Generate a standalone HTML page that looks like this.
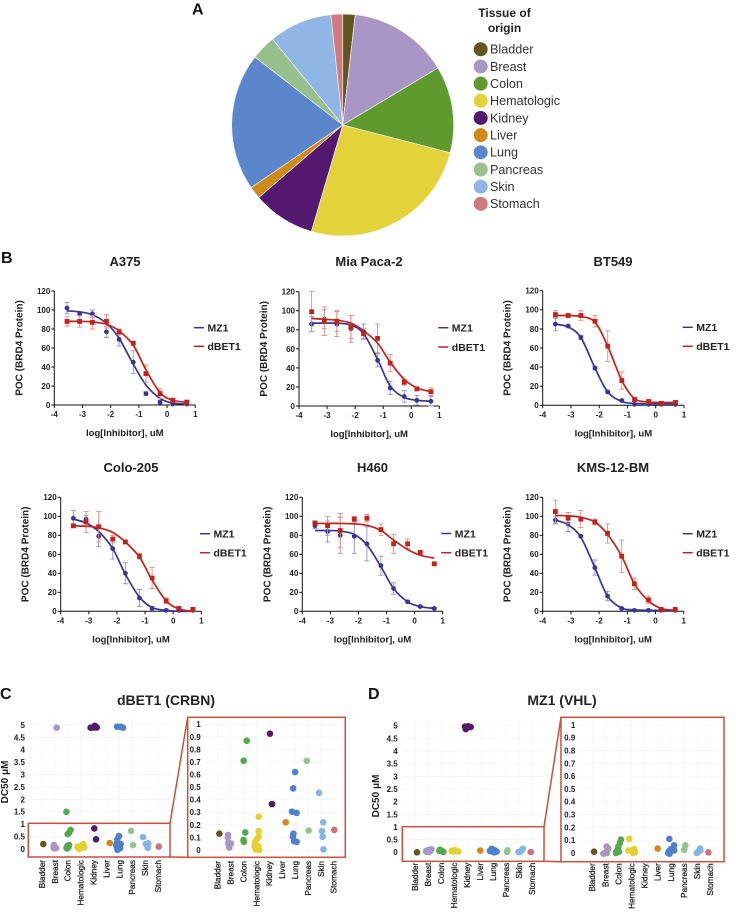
<!DOCTYPE html>
<html lang="en">
<head>
<meta charset="utf-8">
<title>BRD4 degradation across tissue types</title>
<style>
html,body{margin:0;padding:0;background:#fff;width:736px;height:916px;overflow:hidden}
svg{display:block;font-family:"Liberation Sans",sans-serif;filter:blur(0.3px)}
</style>
</head>
<body>
<svg id="figure" xmlns="http://www.w3.org/2000/svg" width="736" height="916" viewBox="0 0 736 916">
<rect x="0" y="0" width="736" height="916" fill="#fff"/>
<text x="192" y="14.5" font-size="16" font-weight="700" fill="#111">A</text>
<text x="1" y="263" font-size="16" font-weight="700" fill="#111">B</text>
<text x="0" y="699" font-size="16" font-weight="700" fill="#111">C</text>
<text x="368" y="699" font-size="16" font-weight="700" fill="#111">D</text>
<text x="504.5" y="17" font-size="12" font-weight="700" text-anchor="middle" fill="#222">Tissue of</text>
<text x="504.5" y="32" font-size="12" font-weight="700" text-anchor="middle" fill="#222">origin</text>
<text x="125" y="266" font-size="13" font-weight="700" text-anchor="middle" fill="#222">A375</text>
<text x="369" y="266" font-size="13" font-weight="700" text-anchor="middle" fill="#222">Mia Paca-2</text>
<text x="613" y="266" font-size="13" font-weight="700" text-anchor="middle" fill="#222">BT549</text>
<text x="131" y="472" font-size="13" font-weight="700" text-anchor="middle" fill="#222">Colo-205</text>
<text x="372.5" y="472" font-size="13" font-weight="700" text-anchor="middle" fill="#222">H460</text>
<text x="613" y="472" font-size="13" font-weight="700" text-anchor="middle" fill="#222">KMS-12-BM</text>
<text x="166" y="705" font-size="14" font-weight="700" text-anchor="middle" fill="#222">dBET1 (CRBN)</text>
<text x="562" y="705" font-size="14" font-weight="700" text-anchor="middle" fill="#222">MZ1 (VHL)</text>
<text transform="translate(8 782) rotate(-90)" font-size="10" font-weight="700" text-anchor="middle" fill="#222">DC50 μM</text>
<text transform="translate(379 796) rotate(-90)" font-size="10" font-weight="700" text-anchor="middle" fill="#222">DC50 μM</text>
</svg>
<script>
// ---- Panel A data ----
const tissues = ["Bladder","Breast","Colon","Hematologic","Kidney","Liver","Lung","Pancreas","Skin","Stomach"];
const tissueShare = [1.8,14.6,12.6,25.5,9.1,1.8,20,3.6,9.2,1.7];
const tissueColors = ["#635420","#a996c7","#5f9a2f","#e4d23a","#55186f","#d08a1a","#5c86cc","#98c08c","#90b6e6","#cf7b80"];
const dotColors = ["#635420","#a996c7","#55a850","#e6cf30","#55186f","#d8861a","#4f80cf","#94c48c","#86b4e8","#cf7176"];

// ---- Panel B data ----
const logDoses = [-3.55,-3.1,-2.65,-2.15,-1.7,-1.2,-0.75,-0.25,0.2,0.7];
const xTickValues = [-4,-3,-2,-1,0,1];
const yTickValues = [0,20,40,60,80,100,120];

const a375Mz1Values = [102,96,96,77,69,45,12,3,1,1];
const a375Mz1Errors = [6,2,4,6,7,12,2,2,1,1];
const a375Mz1Curve = [99,98,95,86,70,43,21,7,2,1];
const a375Dbet1Values = [88,88,87,88,77,65,33,12,5,3];
const a375Dbet1Errors = [5,6,7,7,3,2,9,5,2,2];
const a375Dbet1Curve = [88,88,87.5,85,78,63,37,13,5,3];

const miaMz1Values = [86,91,86,81,78,48,19,10,6,5];
const miaMz1Errors = [8,10,13,14,8,7,7,6,5,5];
const miaMz1Curve = [87,87,87,85,76,49,21,9,6,5];
const miaDbet1Values = [99,89,89,83,76,71,45,25,18,15];
const miaDbet1Errors = [21,15,11,12,5,15,9,3,2,4];
const miaDbet1Curve = [92,91,90,87,79,66,46,28,19,15];

const btMz1Values = [85,83,71,39,14,5,1,1,1,1];
const btMz1Errors = [7,1,2,2,1,1,1,1,1,1];
const btMz1Curve = [85,82,71,39,14,4,2,1.5,1.5,1.5];
const btDbet1Values = [95,94,94,88,62,26,6,4,2,3];
const btDbet1Errors = [4,2,5,6,16,9,2,2,1,1];
const btDbet1Curve = [94,94,93,87,62,26,7,3.5,3,3];

const coloMz1Values = [98,97,79,66,40,14,3,1,1,1];
const coloMz1Errors = [8,4,11,11,11,9,2,1,1,1];
const coloMz1Curve = [97,93,84,66,39,15,4,1,0,0];
const coloDbet1Values = [90,94,89,76,73,58,35,11,3,2];
const coloDbet1Errors = [2,11,16,4,2,3,11,3,1,1];
const coloDbet1Curve = [90,89.5,88,83,73,57,33,11,2.5,0];

const h460Mz1Values = [90,84,80,79,71,48,24,10,5,3];
const h460Mz1Errors = [3,11,19,18,18,10,6,1,1,1];
const h460Mz1Curve = [85,85,84.5,81,70,47,24,10,5,3];
const h460Dbet1Values = [93,90,85,97,98,86,71,71,62,50];
const h460Dbet1Errors = [2,10,18,3,4,6,10,5,2,1];
const h460Dbet1Curve = [92.5,92.5,92.5,92,90.5,85,75,65,59,56];

const kmsMz1Values = [96,92,79,46,16,3,1,1,1,1];
const kmsMz1Errors = [4,8,1,8,5,1,1,1,1,1];
const kmsMz1Curve = [96,91,78,46,16,3.5,1.5,1,1,1];
const kmsDbet1Values = [105,98,97,94,82,58,29,12,2,2];
const kmsDbet1Errors = [12,6,9,3,10,17,6,4,1,1];
const kmsDbet1Curve = [101,100.5,99,94,81,58,29,11,3,1];

// ---- Panels C / D data: [category position with jitter, DC50] ----
const mainTicks = [0,0.5,1,1.5,2,2.5,3,3.5,4,4.5,5];
const insetTicks = [0,0.1,0.2,0.3,0.4,0.5,0.6,0.7,0.8,0.9,1];
const dbet1Overview = [
[0.1,.2],[1.14,4.89],[.92,.16],[.92,.03],[1,.03],[.97,.09],[1.1,.04],[.9,.1],
[1.89,1.5],[2.22,.77],[1.99,.6],[2.1,.66],[2,.14],[1.9,.05],[2.1,.16],[1.97,.1],[2.05,.08],[1.95,.02],
[2.82,.03],[3.08,.1],[3.2,.2],[3.26,.06],[2.9,0],[2.75,.1],[3.1,.16],[3,.04],[3.15,.12],
[3.77,4.89],[3.98,4.9],[4.1,4.97],[4.24,4.9],[4.05,.83],[4.19,.39],
[5.25,.24],
[5.82,4.93],[6.1,4.93],[6.28,4.89],[5.97,.52],[5.84,.39],[5.78,.23],[6,.2],[5.78,.1],[5.9,.03],[6.05,.03],[5.75,.15],[5.85,-.03],[5.95,.12],[6.1,.2],
[6.9,.73],[7.05,.16],
[7.83,.48],[8.24,.23],[8.1,.18],[8.2,.05],[8.05,.2],
[9.05,.1]];
const dbet1Zoomed = [
[.13,.13],[.8,.12],[.79,.1],[.83,.06],[1.03,.05],[.85,.04],[.9,.02],
[2.25,.87],[2.01,.71],[2.14,.14],[2,.08],[2.03,.065],
[3.18,.265],[3.18,.15],[3.18,.105],[3.05,.09],[2.9,.065],[2.85,.03],[3.15,.03],[2.95,.005],[3.2,0],[3.16,.015],
[4.05,.925],[4.21,.365],
[5.27,.22],
[6,.62],[5.85,.49],[5.76,.305],[6.12,.295],[5.87,.13],[5.83,.105],[5.92,.07],[6.12,.065],
[6.9,.71],[7.05,.155],
[7.85,.455],[8.18,.22],[8.08,.15],[8.13,.105],[8.2,.005],
[9.04,.16]];
const mz1Overview = [
[.13,0],
[.85,.02],[1.05,.01],[1.25,.12],[1.05,.1],[.85,.06],[1.15,.05],
[1.9,.1],[2.16,.02],[2.03,.06],[1.85,.06],
[2.8,.06],[3.06,.09],[3.32,.03],[2.93,.03],[3.15,.05],
[3.83,4.97],[4.01,4.93],[4.27,4.95],[3.89,4.87],[4.09,4.98],
[5.01,.07],
[5.89,.14],[6.14,.08],[6.27,.03],[5.89,.04],[6.09,0],[5.75,.06],
[7.12,.08],[7.07,.02],
[8.28,.14],[8.07,.02],[8.2,.08],[7.95,.01],
[8.9,.01]];
const mz1Zoomed = [
[.13,.01],
[1.1,.05],[1.22,.035],[.97,0],[.84,-.005],[1.15,.02],[1.1,0],
[2.19,.105],[2.11,.08],[1.99,.05],[1.94,.03],[1.83,.01],[2.04,.01],[1.81,0],
[2.82,.11],[3.2,.03],[2.75,.02],[3,.02],[3.26,.005],[3.13,0],
[4.99,.035],
[5.88,.11],[6.24,.06],[6.2,.035],[6,.03],[6.25,.02],[5.85,.015],[5.8,0],[5.9,-.005],
[7.1,.06],[7.02,.025],
[8.23,.035],[8.08,.01],[7.98,0],[8.25,.02],
[8.86,.005]];

// ---- Helpers ----
const NS = "http://www.w3.org/2000/svg";
const svg = document.getElementById("figure");
function make(tag, attrs, parent){
  const node = document.createElementNS(NS, tag);
  for (const k in attrs) node.setAttribute(k, attrs[k]);
  (parent || svg).appendChild(node);
  return node;
}
function label(parent, x, y, str, size, weight, anchor, fill){
  const t = make("text", {x:x, y:y, "font-size":size, "font-weight":weight, "text-anchor":anchor, fill:fill}, parent);
  t.textContent = str;
  return t;
}

// ---- Panel A ----
function drawPie(){
  const cx = 342.7, cy = 125, r = 111;
  const total = tissueShare.reduce(function(a,b){return a+b;}, 0);
  let cumulative = 0;
  const group = make("g", {});
  
  
  tissues.forEach(function(name, i){
    const a0 = cumulative / total * 2 * Math.PI;
    cumulative += tissueShare[i];
    const a1 = cumulative / total * 2 * Math.PI;
    const large = (a1 - a0) > Math.PI ? 1 : 0;
    const d = "M" + cx + " " + cy +
      "L" + (cx + r*Math.sin(a0)) + " " + (cy - r*Math.cos(a0)) +
      "A" + r + " " + r + " 0 " + large + " 1 " + (cx + r*Math.sin(a1)) + " " + (cy - r*Math.cos(a1)) + "Z";
    const slice = make("path", {d:d, fill:tissueColors[i], stroke:"#f4f4f4", "stroke-width":0.7}, group);
    
    

    const y = 49.3 + i * 17.17;
    const entry = make("g", {});
    
    
    make("circle", {cx:480.7, cy:y, r:7, fill:tissueColors[i]}, entry);
    label(entry, 490, y + 4.4, name, 12.6, 400, "start", "#333");
  });
}

// ---- Panel B ----
function curvePath(xs, ys){
  let d = "M" + xs[0] + " " + ys[0];
  for (let i = 0; i < xs.length - 1; i++){
    const p = Math.max(i-1, 0), n = Math.min(i+2, xs.length-1);
    const c1x = xs[i] + (xs[i+1]-xs[p])/6, c1y = ys[i] + (ys[i+1]-ys[p])/6;
    const c2x = xs[i+1] - (xs[n]-xs[i])/6, c2y = ys[i+1] - (ys[n]-ys[i])/6;
    d += "C" + c1x + " " + c1y + " " + c2x + " " + c2y + " " + xs[i+1] + " " + ys[i+1];
  }
  return d;
}
function drawSeries(g, sx, sy, vals, errs, curve, color, errColor, square, slug){
  const series = make("g", {}, g);
  
  
  logDoses.forEach(function(dose, i){
    const x = sx(dose), top = sy(vals[i]+errs[i]), bot = sy(vals[i]-errs[i]);
    const bar = make("path", {d:"M"+x+" "+top+"V"+bot+"M"+(x-2.5)+" "+top+"H"+(x+2.5)+"M"+(x-2.5)+" "+bot+"H"+(x+2.5),
      stroke:errColor, "stroke-width":0.9, fill:"none"}, series);
    
    
  });
  const line = make("path", {d:curvePath(logDoses.map(sx), curve.map(sy)), stroke:color, "stroke-width":1.7, fill:"none"}, series);
  
  
  logDoses.forEach(function(dose, i){
    const x = sx(dose), y = sy(vals[i]);
    const mark = square
      ? make("rect", {x:x-2.4, y:y-2.4, width:4.8, height:4.8, fill:color}, series)
      : make("circle", {cx:x, cy:y, r:2.4, fill:color}, series);
    
    
  });
}
function drawDose(c){
  const sx = function(v){ return c.x0 + (v + 4) * (c.x1 - c.x0) / 5; };
  const sy = function(v){ return c.y0 - v * (c.y0 - c.y1) / 120; };
  const g = make("g", {});
  
  
  const axes = make("path", {d:"M"+c.x0+" "+c.y1+"V"+c.y0+"H"+c.x1, stroke:"#111", "stroke-width":1, fill:"none"}, g);
  
  
  yTickValues.forEach(function(v){
    make("path", {d:"M"+(c.x0-3)+" "+sy(v)+"H"+c.x0, stroke:"#111", "stroke-width":1}, g);
    const t = label(g, c.x0-4, sy(v)+2.9, String(v), 8, 700, "end", "#222");
    
    
  });
  xTickValues.forEach(function(v){
    make("path", {d:"M"+sx(v)+" "+c.y0+"v3", stroke:"#111", "stroke-width":1}, g);
    const t = label(g, sx(v), c.y0+12, String(v), 8, 700, "middle", "#222");
    
    
  });
  const xt = label(g, (c.x0+c.x1)/2, c.y0+31, "log[Inhibitor], uM", 9.5, 700, "middle", "#222");
  
  
  const yt = make("text", {transform:"translate("+(c.x0-32)+" "+((c.y0+c.y1)/2)+") rotate(-90)", "font-size":10, "font-weight":700, "text-anchor":"middle", fill:"#222"}, g);
  yt.textContent = "POC (BRD4 Protein)";
  
  
  drawSeries(g, sx, sy, c.mz[0], c.mz[1], c.mz[2], "#35359a", "#8f8fd0", false, c.slug + '-mz1');
  drawSeries(g, sx, sy, c.db[0], c.db[1], c.db[2], "#c3221c", "#e58b78", true, c.slug + '-dbet1');
  const lg1 = make("g", {}, g);
  
  
  make("path", {d:"M"+c.lx+" "+c.ly1+"h10", stroke:"#35359a", "stroke-width":1.5}, lg1);
  label(lg1, c.lx+13.5, c.ly1+3.8, "MZ1", 10.5, 700, "start", "#222");
  const lg2 = make("g", {}, g);
  
  
  make("path", {d:"M"+c.lx+" "+c.ly2+"h10", stroke:"#c3221c", "stroke-width":1.5}, lg2);
  label(lg2, c.lx+13.5, c.ly2+3.8, "dBET1", 10.5, 700, "start", "#222");
}

// ---- Panels C / D ----
function drawScatter(c){
  const sx = function(v){ return c.cat0 + v * c.step; };
  const sy = function(v){ return c.zero - v * c.unit; };
  const g = make("g", {});
  
  
  c.ticks.forEach(function(v){
    const grid = make("path", {d:"M"+c.gridL+" "+sy(v)+"H"+c.gridR, stroke:"#f3f3f3", "stroke-width":0.7}, g);
    
    
    const t = label(g, c.labelX, sy(v)+2.9, String(v), 8, 700, "end", "#222");
    
    
  });
  tissues.forEach(function(name, i){
    const grid = make("path", {d:"M"+sx(i)+" "+c.gridT+"V"+c.gridB, stroke:"#f4f4f4", "stroke-width":0.7}, g);
    
    
    const t = make("text", {transform:"translate("+(sx(i)+2.9)+" "+c.catTop+") rotate(-90)", "font-size":8.2, "text-anchor":"end", fill:"#222", stroke:"#222", "stroke-width":0.25}, g);
    t.textContent = name;
    
    
  });
  c.points.forEach(function(p){
    const idx = Math.min(9, Math.max(0, Math.round(p[0])));
    const dot = make("circle", {cx:sx(p[0]), cy:sy(p[1]), r:3.3, fill:dotColors[idx]}, g);
    
    
  });
}
function drawZoomFrame(slug, ax0, ay0, ax1, ay1, bx0, by0, bx1, by1){
  const g = make("g", {fill:"none", stroke:"#c4523e", "stroke-width":1.5});
  
  
  make("rect", {x:ax0, y:ay0, width:ax1-ax0, height:ay1-ay0}, g);
  make("rect", {x:bx0, y:by0, width:bx1-bx0, height:by1-by0}, g);
  make("path", {d:"M"+ax1+" "+ay0+"L"+bx0+" "+by0+"M"+ax1+" "+ay1+"L"+bx0+" "+by1}, g);
}

// ---- Render ----
drawPie();
const xLeft = {a:54.3, b:299, c:542.7, d:60.7, e:302.3, f:542.7};
drawDose({slug:"a375", x0:xLeft.a, x1:195.3, y0:405, y1:291, lx:194, ly1:327.7, ly2:346.3, mz:[a375Mz1Values,a375Mz1Errors,a375Mz1Curve], db:[a375Dbet1Values,a375Dbet1Errors,a375Dbet1Curve]});
drawDose({slug:"mia-paca-2", x0:xLeft.b, x1:439.3, y0:406, y1:291.7, lx:438.3, ly1:327.7, ly2:347, mz:[miaMz1Values,miaMz1Errors,miaMz1Curve], db:[miaDbet1Values,miaDbet1Errors,miaDbet1Curve]});
drawDose({slug:"bt549", x0:xLeft.c, x1:684, y0:405.3, y1:290.7, lx:682.7, ly1:327.3, ly2:346.3, mz:[btMz1Values,btMz1Errors,btMz1Curve], db:[btDbet1Values,btDbet1Errors,btDbet1Curve]});
drawDose({slug:"colo-205", x0:xLeft.d, x1:201.3, y0:611.3, y1:497.3, lx:200, ly1:533.7, ly2:552.7, mz:[coloMz1Values,coloMz1Errors,coloMz1Curve], db:[coloDbet1Values,coloDbet1Errors,coloDbet1Curve]});
drawDose({slug:"h460", x0:xLeft.e, x1:442.7, y0:611.3, y1:497.3, lx:441.3, ly1:533.5, ly2:552.7, mz:[h460Mz1Values,h460Mz1Errors,h460Mz1Curve], db:[h460Dbet1Values,h460Dbet1Errors,h460Dbet1Curve]});
drawDose({slug:"kms-12-bm", x0:xLeft.f, x1:683.7, y0:611.3, y1:497.3, lx:682.7, ly1:533.7, ly2:552.7, mz:[kmsMz1Values,kmsMz1Errors,kmsMz1Curve], db:[kmsDbet1Values,kmsDbet1Errors,kmsDbet1Curve]});

drawScatter({slug:"dbet1-overview", points:dbet1Overview, ticks:mainTicks, cat0:42, step:12.9, zero:849, unit:24.8, labelX:25, gridL:30, gridR:171, gridT:718, gridB:857, catTop:860});
drawScatter({slug:"dbet1-zoomed", points:dbet1Zoomed, ticks:insetTicks, cat0:217.7, step:12.9, zero:850, unit:125.7, labelX:200.7, gridL:205, gridR:345, gridT:718, gridB:857, catTop:861});
drawScatter({slug:"mz1-overview", points:mz1Overview, ticks:mainTicks, cat0:415.3, step:12.97, zero:852.3, unit:25.3, labelX:397.7, gridL:403, gridR:544, gridT:719, gridB:861, catTop:862.7});
drawScatter({slug:"mz1-zoomed", points:mz1Zoomed, ticks:insetTicks, cat0:592.3, step:13.1, zero:853, unit:128, labelX:575.3, gridL:579, gridR:724, gridT:718, gridB:861, catTop:863.3});
drawZoomFrame("dbet1", 28.3, 823.3, 170, 857, 187.7, 717.3, 345.3, 857.3);
drawZoomFrame("mz1", 402.3, 826.7, 544, 861.3, 561, 717.3, 724, 861.7);
</script>
</body>
</html>
